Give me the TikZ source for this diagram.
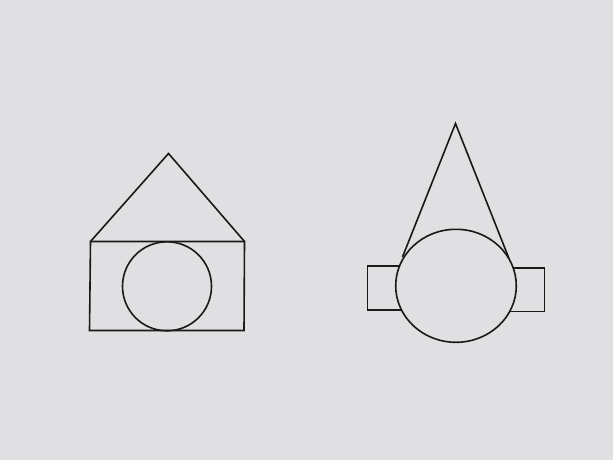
\documentclass[tikz,border=0pt]{standalone}
\usepackage{tikz}
\usetikzlibrary{calc}
\definecolor{paper}{RGB}{224,224,226}

\begin{document}
\begin{tikzpicture}[
    x=1pt,
    y=-1pt,
    outline/.style={
      draw=black!90,
      line width=1.6pt,
      line join=miter
    },
    cover/.style={outline, fill=paper},
]
    \fill [paper] (0,0) rectangle (613,460);
    \useasboundingbox (0,0) rectangle (613,460);

    % house
    \coordinate (roofTop) at (168.5,153.5);
    \coordinate (houseNW) at (90.5,241.5);
    \coordinate (houseNE) at (244.5,241.5);
    \coordinate (houseSE) at (244,330.5);
    \coordinate (houseSW) at (89.5,330.5);
    \draw [outline] (houseNW) -- (roofTop) -- (houseNE);
    \draw [outline] (houseNW) -- (houseNE) -- (houseSE) -- (houseSW) -- cycle;
    \draw [outline] (167,286.3) circle [radius=44.5];

    % figure with cone
    \coordinate (coneTop) at (455.5,123.5);
    \coordinate (coneL) at (402.5,257);
    \coordinate (coneR) at (509,258.5);
    \draw [outline] (coneL) -- (coneTop) -- (coneR);
    \draw [outline] (420,266) -| (367.5,310) -- (420,310);
    \draw [outline] (490,268) -| (544.5,311.5) -- (490,311.5);
    \draw [cover] (456,285.8) ellipse [x radius=60.3, y radius=56.5];
\end{tikzpicture}
\end{document}
